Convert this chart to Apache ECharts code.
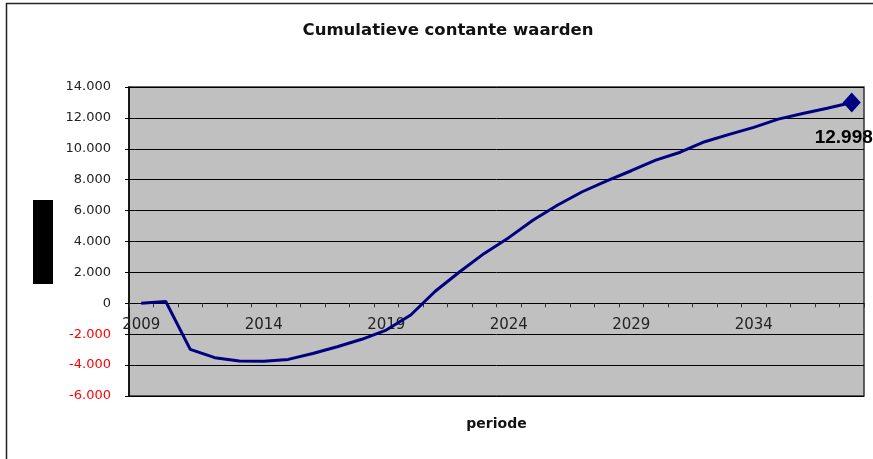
<!DOCTYPE html>
<html>
<head>
<meta charset="utf-8">
<title>Cumulatieve contante waarden</title>
<script src="https://cdn.jsdelivr.net/npm/echarts@6/dist/echarts.min.js"></script>
<style>
  html, body { margin: 0; padding: 0; background: #fff; }
  #chart { width: 873px; height: 459px; }
</style>
</head>
<body>
<div id="chart"></div>
<script>
// jaren (categorieën)
const years = ['2009', '2010', '2011', '2012', '2013', '2014', '2015', '2016', '2017', '2018',
  '2019', '2020', '2021', '2022', '2023', '2024', '2025', '2026', '2027', '2028',
  '2029', '2030', '2031', '2032', '2033', '2034', '2035', '2036', '2037', '2038'];
// cumulatieve contante waarden per jaar
const cumValues = [0, 120, -2980, -3520, -3740, -3750, -3630, -3250, -2810, -2330,
  -1730, -760, 780, 2040, 3230, 4250, 5390, 6360, 7220, 7930,
  8580, 9270, 9780, 10460, 10930, 11390, 11920, 12290, 12620, 12998];

// 12345 -> 12.345
function nlNumber (v) {
  const s = String(Math.abs(Math.round(v))).replace(/\B(?=(\d{3})+(?!\d))/g, '.');
  return (v < 0 ? '-' : '') + s;
}

const last = cumValues.length - 1;
const lineData = cumValues.map((v, i) => {
  if (i !== last) return { value: v, symbol: 'none' };
  return {
    value: v,
    symbol: 'diamond',
    symbolSize: [18, 20],
    label: { show: true }
  };
});

const chart = echarts.init(document.getElementById('chart'));

const option = {
  animation: false,
  title: {
    text: 'Cumulatieve contante waarden',
    left: 443,
    top: 17,
    textAlign: 'center',
    textStyle: {
      fontFamily: 'DejaVu Sans',
      fontWeight: 'bold',
      fontSize: 16.5,
      color: '#111'
    }
  },
  grid: {
    left: 129,
    right: 9,
    top: 87,
    bottom: 63,
    show: true,
    backgroundColor: '#c0c0c0',
    borderColor: '#333',
    borderWidth: 1.5,
    outerBoundsMode: 'none'
  },
  xAxis: {
    type: 'category',
    data: years,
    boundaryGap: true,
    name: 'periode',
    nameLocation: 'middle',
    nameGap: 21,
    nameTextStyle: {
      fontFamily: 'DejaVu Sans',
      fontWeight: 'bold',
      fontSize: 14,
      color: '#111'
    },
    axisLine: { onZero: true, lineStyle: { color: '#000', width: 1 } },
    axisTick: { show: true, interval: 0, length: 4, lineStyle: { color: '#333' } },
    axisLabel: {
      interval: 4,
      // labels sit just under the zero line, not at the bottom of the plot
      margin: -78,
      fontFamily: 'DejaVu Sans',
      fontSize: 15,
      color: '#222'
    },
    splitLine: { show: false }
  },
  yAxis: {
    type: 'value',
    min: -6000,
    max: 14000,
    interval: 2000,
    axisLine: { show: true, lineStyle: { color: '#000', width: 1.5 } },
    axisTick: { show: true, length: 4, lineStyle: { color: '#000' } },
    axisLabel: {
      margin: 18,
      fontFamily: 'DejaVu Sans',
      fontSize: 13,
      formatter: nlNumber,
      color: (v) => (Number(v) < 0 ? '#ff0000' : '#222')
    },
    splitLine: { show: true, lineStyle: { color: '#000', width: 1 } }
  },
  series: [
    {
      type: 'line',
      data: lineData,
      lineStyle: { color: '#000080', width: 3 },
      itemStyle: { color: '#000080' },
      label: {
        show: false,
        position: 'inside',
        offset: [-8, 35],
        formatter: (p) => nlNumber(p.value),
        fontFamily: 'Liberation Sans',
        fontWeight: 'bold',
        fontSize: 19,
        color: '#000'
      },
      z: 3
    }
  ],
  graphic: [
    {
      type: 'rect',
      shape: { x: 6.5, y: 3.5, width: 900, height: 500 },
      style: { fill: 'none', stroke: '#222', lineWidth: 1.5 },
      silent: true
    },
    {
      // as-titel (zwart blok)
      type: 'rect',
      shape: { x: 33, y: 200, width: 20, height: 84 },
      style: { fill: '#000' },
      silent: true
    }
  ]
};

chart.setOption(option);
</script>
</body>
</html>
